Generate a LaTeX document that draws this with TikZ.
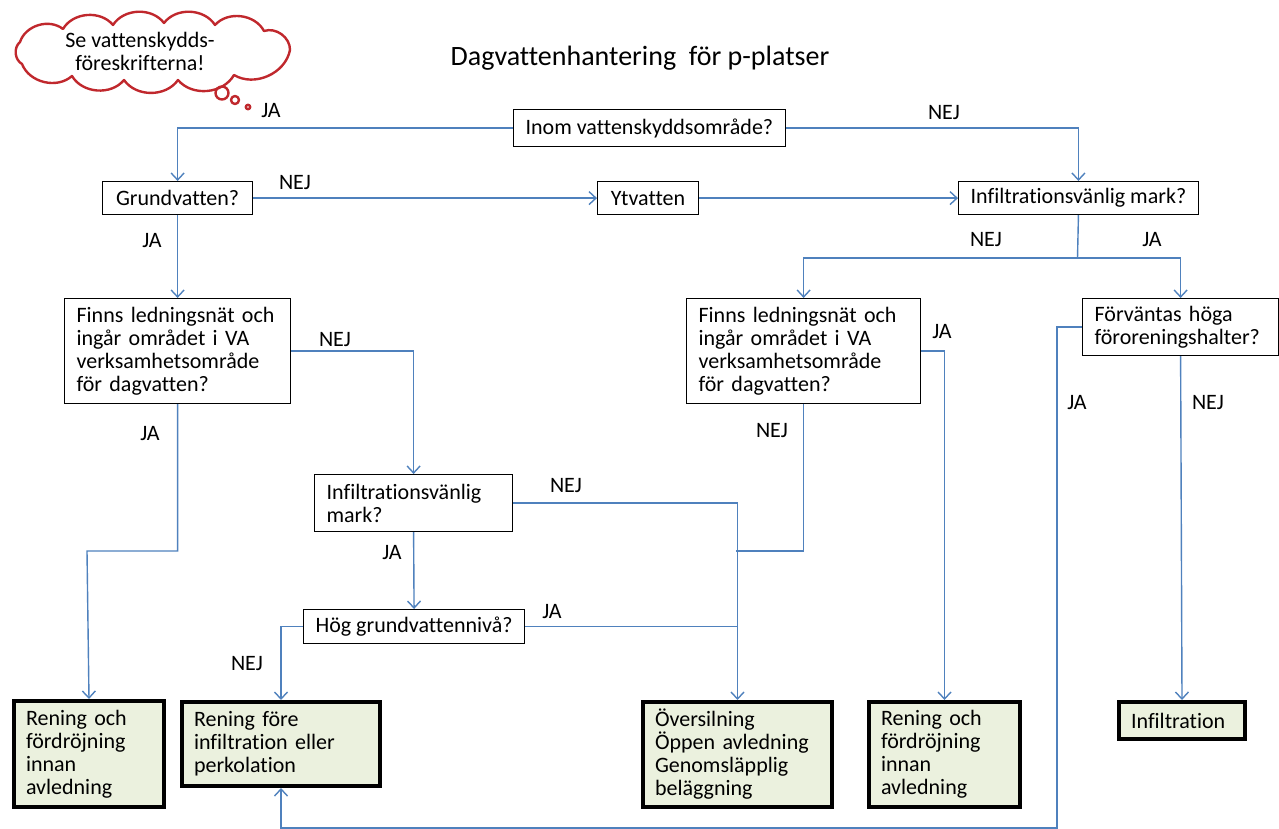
\documentclass[tikz,border=0pt]{standalone}
\usepackage{fontspec}
\setmainfont{Carlito}[Ligatures=NoCommon]
\usetikzlibrary{arrows.meta}
\definecolor{flowblue}{HTML}{4F81BD}
\definecolor{endfill}{HTML}{EBF1DE}
\definecolor{cloudred}{HTML}{C0282D}

\begin{document}
\begin{tikzpicture}[
  x=0.5pt, y=-0.5pt,
  font=\fontsize{11}{11.5}\selectfont,
  ask/.style={draw, line width=.6pt, inner xsep=6pt, inner ysep=2pt, anchor=north west},
  result/.style={draw, line width=2pt, fill=endfill, align=left, inner xsep=6pt, inner ysep=2pt, anchor=north west},
  flow/.style={-{Straight Barb[length=3.5pt,width=6.5pt]}, draw=flowblue, line width=.7pt},
  link/.style={draw=flowblue, line width=.7pt},
  lab/.style={inner sep=0pt},
  cloudline/.style={draw=cloudred, line width=1.2pt, line join=round, line cap=round},
  puff/.style={circle, cloudline, inner sep=0pt}
]
\useasboundingbox (0,0) rectangle (1279,829);

% title and note
\node (title) at (640,58) {\fontsize{14}{16}\selectfont Dagvattenhantering\ \ för p-platser};
\draw[cloudline] (290,50) to[bend right=55] (264,31) to[bend right=55] (215,25)
  to[bend right=55] (164,23) to[bend right=55] (113,25) to[bend right=55] (63,29)
  to[bend right=55] (20,42) to[bend right=55] (22,64) to[bend right=55] (72,76)
  to[bend right=55] (124,80) to[bend right=55] (178,80) to[bend right=55] (234,75)
  to[bend right=55] (290,50);
\node[align=center, inner sep=0pt] (note) at (140,51) {Se vattenskydds-\\föreskrifterna!};
\node[puff, minimum size=6.5pt] (puffA) at (222,93) {};
\node[puff, minimum size=4pt] (puffB) at (235,100) {};
\node[puff, minimum size=2.2pt] (puffC) at (248,107) {};

% questions
\node[ask, minimum width=135pt, minimum height=18.5pt] (inom) at (513,109) {Inom vattenskyddsområde?};
\node[ask, minimum width=75pt, minimum height=16.5pt] (grund) at (102,181) {Grundvatten?};
\node[ask, minimum width=50.5pt, minimum height=16.5pt] (ytvatten) at (597,181) {Ytvatten};
\node[ask, minimum width=119.5pt, minimum height=16.5pt] (infil1) at (958,181) {Infiltrationsvänlig mark?};
\node[ask, minimum width=113pt, minimum height=52.5pt, text width=101pt, align=left] (finns1) at (64,298) {Finns ledningsnät och\\ingår området i VA\\verksamhetsområde\\för dagvatten?};
\node[ask, minimum width=117pt, minimum height=52.5pt, text width=105pt, align=left] (finns2) at (686,298) {Finns ledningsnät och\\ingår området i VA\\verksamhetsområde\\för dagvatten?};
\node[ask, minimum width=98pt, minimum height=28.5pt, text width=86pt, align=left] (forv) at (1082,298) {Förväntas höga\\föroreningshalter?};
\node[ask, minimum width=99pt, minimum height=28.5pt, text width=87pt, align=left] (infil2) at (314,474) {Infiltrationsvänlig\\mark?};
\node[ask, minimum width=110pt, minimum height=17pt] (hog) at (303,609) {Hög grundvattennivå?};

% results
\node[result, minimum width=75pt, minimum height=53pt, text width=63pt] (r1) at (12,699) {Rening och\\fördröjning\\innan\\avledning};
\node[result, minimum width=99pt, minimum height=42pt, text width=87pt] (r2) at (180,700) {Rening före\\infiltration eller\\perkolation};
\node[result, minimum width=94.5pt, minimum height=52.5pt, text width=82.5pt] (ov) at (641,700) {Översilning\\Öppen avledning\\Genomsläpplig\\beläggning};
\node[result, minimum width=75.5pt, minimum height=52.5pt, text width=63.5pt] (r3) at (867,700) {Rening och\\fördröjning\\innan\\avledning};
\node[result, minimum width=63pt, minimum height=18.5pt, text width=51pt] (inf) at (1117,700) {Infiltration};

\coordinate (split) at (1077.5,258);
\coordinate (bendA) at (87,551);
\coordinate (mergeA) at (736,551);
\coordinate (bendB) at (1057,828);

% connectors
\draw[flow] (inom.west) -| (grund.north);
\draw[flow] (inom.east) -| (infil1.north);
\draw[flow] (grund.east) -- (ytvatten.west);
\draw[flow] (ytvatten.east) -- (infil1.west);
\draw[flow] (grund.south) -- (finns1.north);
\draw[link] (infil1.south) -- (split);
\draw[flow] (split) -| (finns2.north);
\draw[flow] (split) -| (forv.north);
\draw[flow] (finns1.east) -| (infil2.north);
\draw[flow] (finns1.south) |- (bendA) -- (r1.north);
\draw[flow] (infil2.east) -| (ov.north);
\draw[flow] (infil2.south) -- (hog.north);
\draw[link] (hog.east) -- (hog.east -| ov.north);
\draw[link] (finns2.south) |- (mergeA);
\draw[flow] (hog.west) -| (r2.north);
\draw[flow] (finns2.east) -| (r3.north);
\draw[flow] (forv.west) -| (bendB) -| (r2.south);
\draw[flow] (forv.south) -- (inf.north);

% labels
\node[lab] (jaA) at (271,111) {JA};
\node[lab] (nejA) at (944,113) {NEJ};
\node[lab] (nejB) at (295,183) {NEJ};
\node[lab] (jaB) at (152,241) {JA};
\node[lab] (nejC) at (986,240) {NEJ};
\node[lab] (jaC) at (1152,240) {JA};
\node[lab] (nejD) at (335,340) {NEJ};
\node[lab] (jaD) at (150,434) {JA};
\node[lab] (nejE) at (566,486) {NEJ};
\node[lab] (jaE) at (392,553) {JA};
\node[lab] (jaF) at (552,612) {JA};
\node[lab] (nejF) at (247,664) {NEJ};
\node[lab] (nejG) at (772,431) {NEJ};
\node[lab] (jaG) at (942,332) {JA};
\node[lab] (jaH) at (1077,403) {JA};
\node[lab] (nejH) at (1208,403) {NEJ};
\end{tikzpicture}
\end{document}
